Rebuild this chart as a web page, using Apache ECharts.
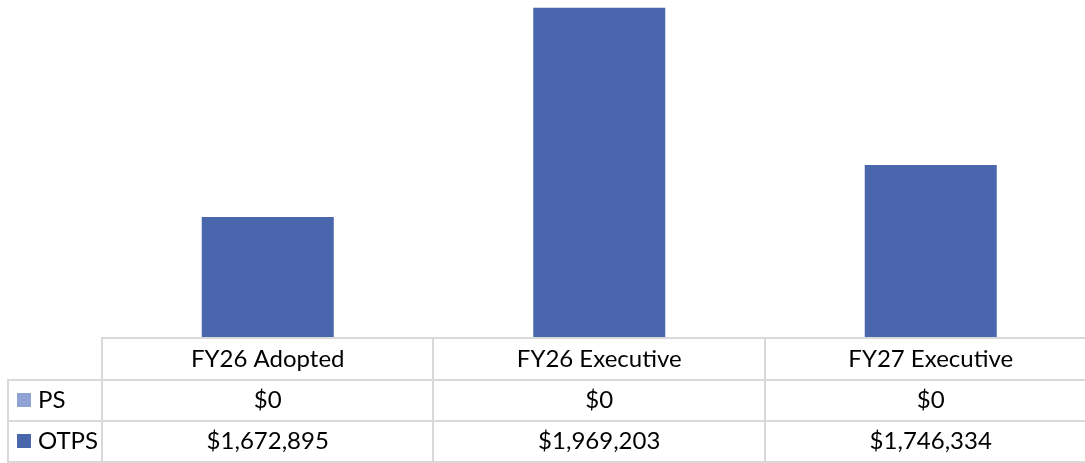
<!DOCTYPE html>
<html>
<head>
<meta charset="utf-8">
<script src="https://cdn.jsdelivr.net/npm/echarts@6/dist/echarts.min.js"></script>
<style>
html,body{margin:0;padding:0;background:#fff;}
#chart{width:1085px;height:463px;}
</style>
</head>
<body>
<div id="chart"></div>
<script>
const categories = ['FY26 Adopted', 'FY26 Executive', 'FY27 Executive'];
const seriesNames = ['PS', 'OTPS'];
const psValues = [0, 0, 0];
const otpsValues = [1672895, 1969203, 1746334];
const yMin = 1500000;
const yMax = 1980000;

const fmt = v => '$' + v.toLocaleString('en-US');
const FONT = 'Lato';
const FS = 24;
const TXT = '#000';
const lineColor = '#D9D9D9';

const chart = echarts.init(document.getElementById('chart'));

function tableLines() {
  const els = [];
  const h = (x1, x2, y) => els.push({type:'line', shape:{x1, y1:y, x2, y2:y}, style:{stroke:lineColor, lineWidth:2}, z:100});
  const v = (x, y1, y2) => els.push({type:'line', shape:{x1:x, y1, x2:x, y2}, style:{stroke:lineColor, lineWidth:2}, z:100});
  h(102, 1085, 338);
  h(8, 1085, 380);
  h(8, 1085, 421);
  h(8, 1085, 462);
  v(102, 337, 463);
  v(433, 337, 463);
  v(765, 337, 463);
  v(8, 379, 463);
  return els;
}

function legendFor(name, top) {
  return {
    orient: 'horizontal',
    left: 17,
    top: top,
    itemWidth: 14,
    itemHeight: 14,
    icon: 'rect',
    selectedMode: false,
    data: [name],
    padding: 0,
    textStyle: { fontFamily: FONT, fontSize: FS, color: TXT, padding: [0,0,0,2] }
  };
}

// category positions on a numeric x axis (index), so columns can run past the right edge as in the reference
const psData = psValues.map((v, i) => [i, v]);
const otpsData = otpsValues.map((v, i) => [i, v]);

chart.setOption({
  animation: false,
  backgroundColor: '#fff',
  grid: { left: 102, right: 0, top: 0, bottom: 124, containLabel: false },
  legend: [legendFor(seriesNames[0], 388), legendFor(seriesNames[1], 429)],
  xAxis: {
    type: 'value',
    min: -0.5,
    max: 983 / 331.5 - 0.5,
    interval: 0.5,
    axisLine: { show: false },
    axisTick: { show: false },
    splitLine: { show: false },
    axisLabel: {
      margin: 0,
      showMinLabel: false,
      showMaxLabel: false,
      formatter: function (val) {
        const idx = Math.round(val);
        if (Math.abs(val - idx) > 1e-6 || idx < 0 || idx >= categories.length) return '';
        return '{h|' + categories[idx] + '}\n{v|' + fmt(psValues[idx]) + '}\n{v|' + fmt(otpsValues[idx]) + '}';
      },
      rich: {
        h: { fontFamily: FONT, fontSize: FS, color: TXT, lineHeight: 41 },
        v: { fontFamily: FONT, fontSize: FS, color: TXT, lineHeight: 41 }
      }
    }
  },
  yAxis: {
    type: 'value',
    min: yMin,
    max: yMax,
    show: false,
    splitLine: { show: false }
  },
  series: [
    { name: 'PS', type: 'bar', stack: 'total', data: psData, barWidth: 132, itemStyle: { color: '#8FA2D4' } },
    { name: 'OTPS', type: 'bar', stack: 'total', data: otpsData, barWidth: 132, itemStyle: { color: '#4A66AC' } }
  ],
  graphic: tableLines()
});
</script>
</body>
</html>
